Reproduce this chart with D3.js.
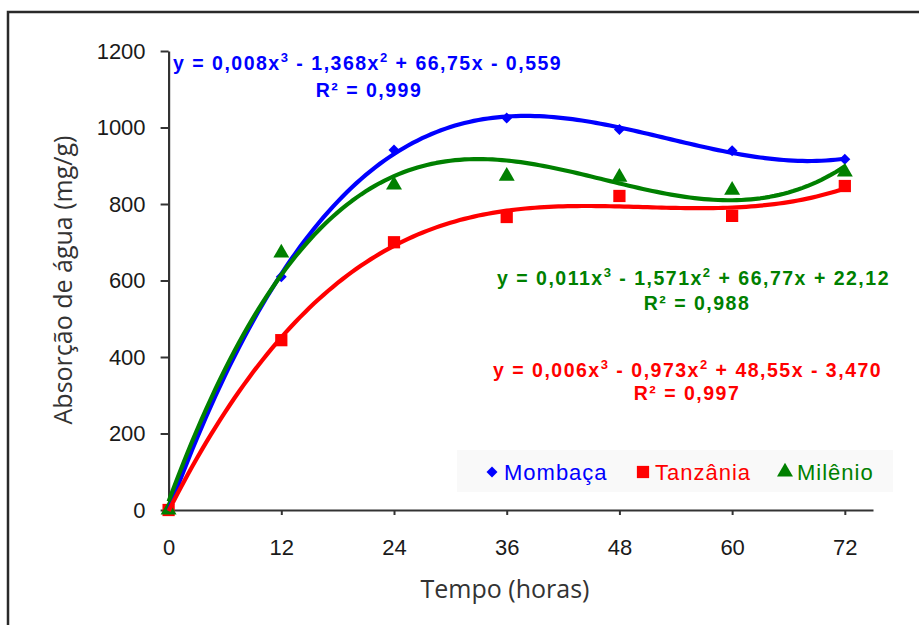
<!DOCTYPE html>
<html>
<head>
<meta charset="utf-8">
<script src="https://cdn.jsdelivr.net/npm/d3@7"></script>
<style>
  body { margin: 0; background: #fff; }
  svg { display: block; }
</style>
</head>
<body>
<svg></svg>
<script>
let width = 919;
let height = 625;

// tempo (horas)
let hours = [0, 12, 24, 36, 48, 60, 72];
let xTicks = [0, 12, 24, 36, 48, 60, 72];
let yTicks = [0, 200, 400, 600, 800, 1000, 1200];

// absorção de água (mg/g)
let mombaca  = [0, 610, 941, 1025, 995, 939, 917];
let tanzania = [0, 444, 700, 766, 821, 769, 847];
let milenio  = [0, 672, 850, 873, 870, 836, 884];

let seriesNames = ["Mombaça", "Tanzânia", "Milênio"];
let colours = ["#0000ff", "#ff0000", "#008000"];

// equation labels as shown by the trendlines
let eqCoefs = [
  ["0,008", "1,368", "+ 66,75x - 0,559", "0,999"],
  ["0,006", "0,973", "+ 48,55x - 3,470", "0,997"],
  ["0,011", "1,571", "+ 66,77x + 22,12", "0,988"]
];

let svg = d3.select("svg")
  .attr("width", width)
  .attr("height", height);

// outer frame
svg.append("rect")
  .attr("x", 8).attr("y", 12)
  .attr("width", 1000).attr("height", 800)
  .attr("fill", "none")
  .attr("stroke", "#2a2a2a")
  .attr("stroke-width", 2.5);

let x = d3.scaleLinear().domain([0, 75]).range([168.6, 873]);
let y = d3.scaleLinear().domain([0, 1200]).range([510, 51]);

// least squares cubic (the excel polynomial trendline)
function cubicFit(xs, ys) {
  let n = 4;
  let A = [];
  for (let r = 0; r < n; r++) {
    A.push([]);
    for (let c = 0; c < n; c++) A[r].push(d3.sum(xs, v => Math.pow(v, r + c)));
    A[r].push(d3.sum(xs, (v, i) => Math.pow(v, r) * ys[i]));
  }
  for (let i = 0; i < n; i++) {
    let p = i;
    for (let k = i + 1; k < n; k++) if (Math.abs(A[k][i]) > Math.abs(A[p][i])) p = k;
    [A[i], A[p]] = [A[p], A[i]];
    for (let k = i + 1; k < n; k++) {
      let f = A[k][i] / A[i][i];
      for (let c = i; c <= n; c++) A[k][c] -= f * A[i][c];
    }
  }
  let b = new Array(n).fill(0);
  for (let i = n - 1; i >= 0; i--) {
    let s = A[i][n];
    for (let c = i + 1; c < n; c++) s -= A[i][c] * b[c];
    b[i] = s / A[i][i];
  }
  return t => b[0] + b[1] * t + b[2] * t * t + b[3] * t * t * t;
}

let allSeries = [mombaca, tanzania, milenio];

// legend box
svg.append("rect")
  .attr("x", 457).attr("y", 450)
  .attr("width", 436).attr("height", 42)
  .attr("fill", "#f9f9f9");

// axes
let yAxis = svg.append("g")
  .attr("transform", "translate(" + x(0) + ",0)")
  .call(d3.axisLeft(y).tickValues(yTicks).tickFormat(d3.format("d"))
    .tickSize(8).tickSizeOuter(0).tickPadding(15));

let xAxis = svg.append("g")
  .attr("transform", "translate(0," + y(0) + ")")
  .call(d3.axisBottom(x).tickValues(xTicks).tickSize(5).tickSizeOuter(0).tickPadding(24));

[yAxis, xAxis].forEach(a => {
  a.select(".domain").attr("stroke", "#333").attr("stroke-width", 2.2);
  a.selectAll(".tick line").attr("stroke", "#333").attr("stroke-width", 2);
  a.selectAll("text")
    .attr("fill", "#1a1a1a")
    .style("font-family", "Liberation Sans, Arial, sans-serif")
    .style("font-size", "22px");
});

// markers
let symbolTypes = [d3.symbolSquare, d3.symbolSquare, d3.symbolTriangle];
let symbolSizes = [60, 150, 110];
let symbolRot = [45, 0, 0];

allSeries.forEach((vals, s) => {
  svg.append("g").selectAll("path")
    .data(hours)
    .enter()
    .append("path")
      .attr("transform", (d, i) => "translate(" + x(d) + "," + y(vals[i]) + ") rotate(" + symbolRot[s] + ")")
      .attr("d", d3.symbol().type(symbolTypes[s]).size(symbolSizes[s]))
      .attr("fill", colours[s]);
});

// trendlines, drawn blue, green, red
let line = d3.line().x(d => x(d[0])).y(d => y(d[1]));
[0, 2, 1].forEach(s => {
  let f = cubicFit(hours, allSeries[s]);
  let pts = d3.range(0, 72.01, 0.5).map(t => [t, f(t)]);
  svg.append("path")
    .datum(pts)
    .attr("d", line)
    .attr("fill", "none")
    .attr("stroke", colours[s])
    .attr("stroke-width", 4.2)
    .attr("stroke-linejoin", "round");
});

// equation labels
let eqPos = [
  {x: 173, y: 70, r2x: 369, r2y: 97},
  {x: 493, y: 377, r2x: 687, r2y: 400},
  {x: 497, y: 285, r2x: 697, r2y: 310}
];

eqCoefs.forEach((c, s) => {
  let t = svg.append("text")
    .attr("x", eqPos[s].x).attr("y", eqPos[s].y)
    .attr("fill", colours[s])
    .style("font-family", "Liberation Sans, Arial, sans-serif")
    .style("font-size", "19.5px")
    .style("font-weight", "bold")
    .style("letter-spacing", "1.5px");
  t.append("tspan").text("y = " + c[0] + "x");
  t.append("tspan").attr("dy", -8).style("font-size", "13px").text("3");
  t.append("tspan").attr("dy", 8).text(" - " + c[1] + "x");
  t.append("tspan").attr("dy", -8).style("font-size", "13px").text("2");
  t.append("tspan").attr("dy", 8).text(" " + c[2]);

  svg.append("text")
    .attr("x", eqPos[s].r2x).attr("y", eqPos[s].r2y)
    .attr("text-anchor", "middle")
    .attr("fill", colours[s])
    .style("font-family", "Liberation Sans, Arial, sans-serif")
    .style("font-size", "19.5px")
    .style("font-weight", "bold")
    .style("letter-spacing", "1.5px")
    .text("R² = " + c[3]);
});

// legend
let legendX = [492, 643, 785];
seriesNames.forEach((name, s) => {
  svg.append("path")
    .attr("transform", "translate(" + legendX[s] + ",472) rotate(" + symbolRot[s] + ")")
    .attr("d", d3.symbol().type(symbolTypes[s]).size(symbolSizes[s]))
    .attr("fill", colours[s]);
  svg.append("text")
    .attr("x", legendX[s] + 12).attr("y", 480)
    .attr("fill", colours[s])
    .style("font-family", "Liberation Sans, Arial, sans-serif")
    .style("font-size", "22px")
    .style("letter-spacing", "1px")
    .text(name);
});

// axis titles
svg.append("text")
  .attr("transform", "translate(72,280) rotate(-90)")
  .attr("text-anchor", "middle")
  .attr("fill", "#333")
  .style("font-family", "Open Sans, sans-serif")
  .style("font-size", "25px")
  .text("Absorção de água (mg/g)");

svg.append("text")
  .attr("x", 505).attr("y", 598)
  .attr("text-anchor", "middle")
  .attr("fill", "#333")
  .style("font-family", "Open Sans, sans-serif")
  .style("font-size", "25px")
  .text("Tempo (horas)");
</script>
</body>
</html>
